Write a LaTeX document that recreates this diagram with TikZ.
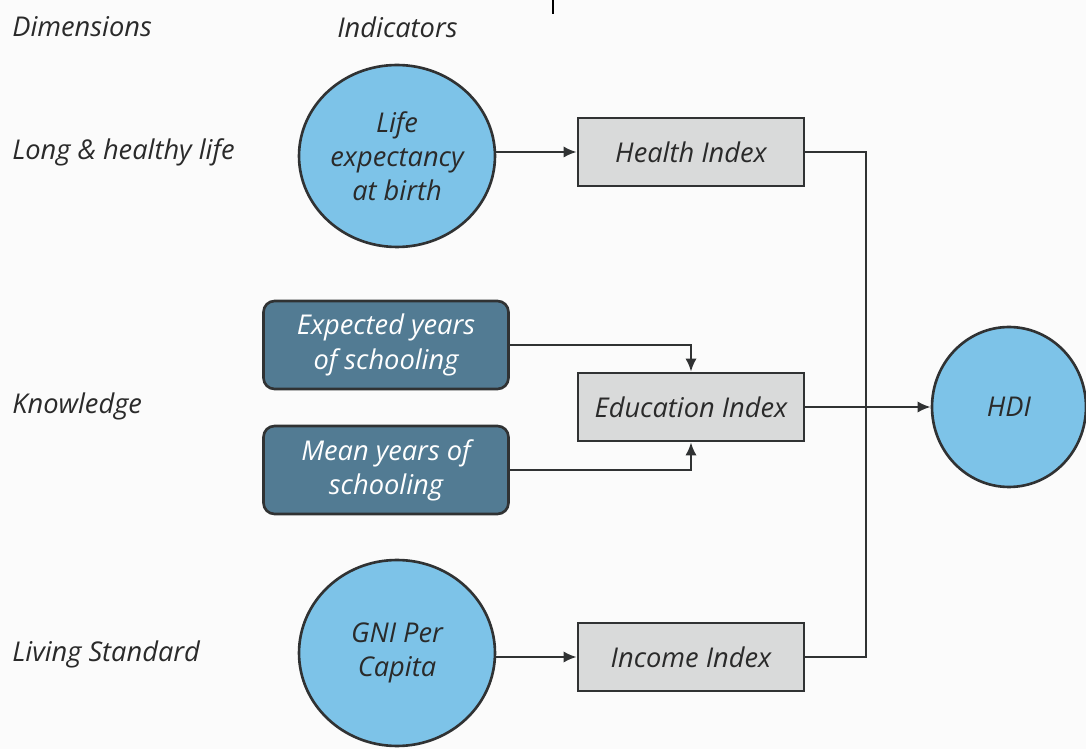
\documentclass[tikz,border=0pt]{standalone}
\usepackage{fontspec}
\setmainfont{Open Sans}
\usetikzlibrary{shapes.geometric,arrows.meta}
\definecolor{bg}{HTML}{FBFBFB}
\definecolor{edge}{HTML}{303233}
\definecolor{txt}{HTML}{2A2A2A}
\definecolor{cblue}{HTML}{7DC3E8}
\definecolor{gbox}{HTML}{D9DADA}
\definecolor{steel}{HTML}{527B93}
\tikzset{
  fnt/.style={font=\fontsize{15.5}{19.5}\selectfont\itshape},
  lbl/.style={fnt, text=txt, anchor=west, inner sep=0pt},
  circ/.style={ellipse, draw=edge, line width=1.5pt, fill=cblue, fnt, text=txt, align=center, inner sep=0pt},
  idx/.style={rectangle, draw=edge, line width=1.5pt, fill=gbox, fnt, text=txt, minimum width=4.52cm, minimum height=1.36cm, inner sep=0pt},
  ind/.style={rectangle, rounded corners=0.22cm, draw=edge, line width=1.5pt, fill=steel, fnt, text=white, align=center, minimum width=4.9cm, minimum height=1.76cm, inner sep=0pt},
  conn/.style={draw=edge, line width=1.3pt},
  arr/.style={conn, -{Latex[length=7.5pt,width=6.5pt]}}
}
\begin{document}
\begin{tikzpicture}[x=0.02cm,y=-0.02cm]
\fill[bg] (0,0) rectangle (1086,749);
\useasboundingbox (0,0) rectangle (1086,749);
\begin{scope}
\clip (0,0) rectangle (1086,749);
% top fragment
\draw[line width=1.4pt, black] (553,0) -- (553,14);

% row labels
\node[lbl] (dim) at (12,27) {Dimensions};
\node[lbl] (indic) at (337,27) {Indicators};
\node[lbl] (long) at (12,152) {Long \& healthy life};
\node[lbl] (know) at (12,406) {Knowledge};
\node[lbl] (liv) at (12,654) {Living Standard};

% indicators
\node[circ, minimum width=3.92cm, minimum height=3.64cm] (life) at (397,156) {Life\\expectancy\\at birth};
\node[circ, minimum width=3.92cm, minimum height=3.72cm] (gni) at (397,653) {GNI Per\\Capita};
\node[ind] (exp) at (386,345) {Expected years\\of schooling};
\node[ind] (mean) at (386,470) {Mean years of\\schooling};

% indices
\node[idx] (health) at (691,152) {Health Index};
\node[idx] (edu) at (691,407) {Education Index};
\node[idx] (inc) at (691,657) {Income Index};

% HDI
\node[circ, minimum width=3.08cm, minimum height=3.2cm] (hdi) at (1009,407) {HDI};

% connectors
\draw[arr] (health.west -| life.east) -- (health.west);
\draw[arr] (inc.west -| gni.east) -- (inc.west);
\draw[arr] (exp.east) -| (edu.north);
\draw[arr] (mean.east) -| (edu.south);
\draw[conn] (health.east) -- ++(61,0) |- (inc.east);
\draw[arr] (edu.east) -- (hdi.west);
\end{scope}
\end{tikzpicture}
\end{document}
